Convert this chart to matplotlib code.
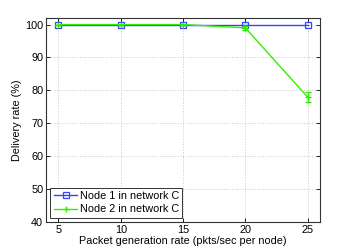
import matplotlib
matplotlib.use("Agg")
import matplotlib.pyplot as plt

# Taxa de geração de pacotes (pkts/sec por nó)
taxas = [5, 10, 15, 20, 25]

# Taxa de entrega (%) por nó
node1 = [100, 100, 100, 100, 100]
node2 = [100, 100, 100, 99, 78]
node2_err = [0, 0, 0, 0.5, 1.6]

plt.rcParams['font.family'] = ['Liberation Sans', 'DejaVu Sans']
plt.rcParams['font.size'] = 7.8

fig = plt.figure(figsize=(3.54, 2.5), dpi=100)
ax = fig.add_axes([0.13, 0.112, 0.774, 0.816])

ax.plot(taxas, node1, color='#3344ff', marker='s', markersize=4,
        markerfacecolor='none', markeredgewidth=0.9, linewidth=1.0,
        label='Node 1 in network C')
ax.errorbar(taxas, node2, yerr=node2_err, color='#33ee00', fmt='none',
            capsize=2.5, elinewidth=1.0)
ax.plot(taxas, node2, color='#33ee00', marker='+', markersize=5,
        linewidth=1.0, label='Node 2 in network C')

ax.set_xlim(4, 26)
ax.set_ylim(40, 102)
ax.set_xticks(taxas)
ax.set_yticks([40, 50, 60, 70, 80, 90, 100])
ax.grid(True, linestyle=':', color='#c8c8c8', linewidth=0.7)
ax.tick_params(direction='in', length=3, width=0.6, pad=2)
ax.tick_params(top=True, right=True)
for s in ax.spines.values():
    s.set_linewidth(0.8)
    s.set_color('#333333')

ax.set_xlabel("Packet generation rate (pkts/sec per node)", labelpad=1)
ax.set_ylabel("Delivery rate (%)", labelpad=2)

leg = ax.legend(loc='lower left', fancybox=False, framealpha=1,
                edgecolor='#333333', borderpad=0.3, handlelength=2.2,
                handletextpad=0.2, labelspacing=0.3, borderaxespad=0.4)
leg.get_frame().set_linewidth(0.7)

fig.savefig("out.png", dpi=100)
